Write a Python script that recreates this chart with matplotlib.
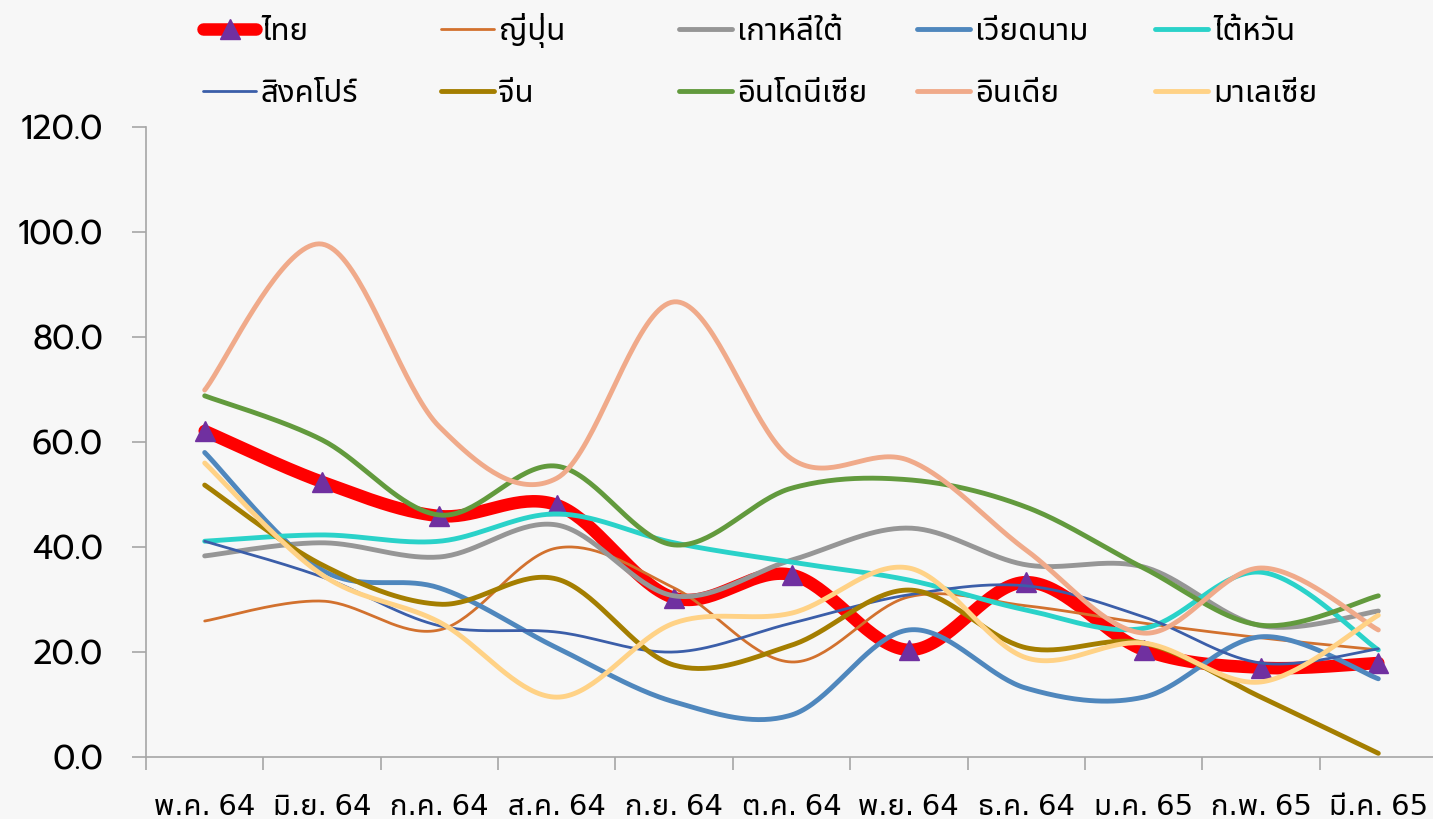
import numpy as np
import matplotlib
matplotlib.use("Agg")
import matplotlib.pyplot as plt
from matplotlib.lines import Line2D

months = ["พ.ค. 64", "มิ.ย. 64", "ก.ค. 64", "ส.ค. 64", "ก.ย. 64", "ต.ค. 64",
          "พ.ย. 64", "ธ.ค. 64", "ม.ค. 65", "ก.พ. 65", "มี.ค. 65"]

thailand  = [62.1, 52.4, 45.9, 48.0, 30.3, 34.7, 20.4, 33.3, 20.4, 17.0, 17.9]
japan     = [25.9, 29.7, 24.2, 39.8, 32.2, 18.1, 30.5, 28.8, 25.5, 22.7, 20.4]
korea     = [38.3, 40.8, 38.1, 44.2, 30.7, 37.5, 43.6, 36.6, 36.2, 25.0, 27.8]
vietnam   = [58.0, 35.6, 32.2, 20.8, 10.5, 8.0, 24.2, 13.1, 11.4, 22.9, 14.9]
taiwan    = [41.1, 42.3, 41.1, 46.3, 40.8, 37.1, 33.7, 28.0, 24.5, 35.2, 20.4]
singapore = [41.1, 34.3, 25.0, 23.8, 20.0, 25.5, 30.9, 32.6, 26.7, 17.9, 20.6]
china     = [51.8, 36.6, 29.1, 33.9, 17.5, 21.3, 31.8, 20.8, 21.7, 11.4, 0.7]
indonesia = [68.8, 60.4, 46.1, 55.4, 40.4, 51.2, 52.8, 47.6, 36.0, 25.1, 30.7]
india     = [69.9, 97.7, 62.9, 53.1, 86.7, 56.8, 56.5, 39.4, 23.6, 36.0, 24.2]
malaysia  = [56.0, 34.7, 25.7, 11.4, 25.5, 27.4, 36.0, 18.9, 21.7, 14.3, 27.0]

plt.rcParams['font.family'] = ['Noto Sans Thai UI', 'DejaVu Sans']


def smooth(ys, n=40):
    # excel style smoothed line (catmull-rom bezier)
    ys = np.asarray(ys, float)
    xs = np.arange(len(ys), dtype=float)
    px = np.concatenate([[xs[0]], xs, [xs[-1]]])
    py = np.concatenate([[ys[0]], ys, [ys[-1]]])
    t = np.linspace(0, 1, n)[:, None]
    out = []
    for i in range(1, len(px) - 2):
        p0 = np.array([px[i-1], py[i-1]])
        p1 = np.array([px[i], py[i]])
        p2 = np.array([px[i+1], py[i+1]])
        p3 = np.array([px[i+2], py[i+2]])
        c1 = p1 + (p2 - p0) / 6
        c2 = p2 - (p3 - p1) / 6
        seg = ((1-t)**3)*p1 + 3*((1-t)**2)*t*c1 + 3*(1-t)*(t**2)*c2 + (t**3)*p2
        out.append(seg)
    out = np.vstack(out)
    return out[:, 0], out[:, 1]


W, H = 1433, 819
bg = "#F7F7F7"
fig = plt.figure(figsize=(14.33, 8.19), dpi=100, facecolor=bg)
ax = fig.add_axes([146/W, 1-757/H, 1291/W, 630/H], facecolor=bg)

series = [
    ("ญี่ปุ่น", japan, "#D2712E", 2.0),
    ("เกาหลีใต้", korea, "#969696", 3.5),
    ("เวียดนาม", vietnam, "#4F87BD", 3.5),
    ("ไต้หวัน", taiwan, "#2AD2C9", 3.5),
    ("สิงคโปร์", singapore, "#3B5EA9", 2.0),
    ("จีน", china, "#A47E00", 3.5),
    ("อินโดนีเซีย", indonesia, "#629A3D", 3.5),
    ("อินเดีย", india, "#F0AA8A", 3.5),
    ("มาเลเซีย", malaysia, "#FFD286", 3.5),
]

x = np.arange(len(months))
sx, sy = smooth(thailand)
ax.plot(sx, sy, color="#FF0000", lw=9, solid_capstyle="round", zorder=2)
ax.plot(x, thailand, ls="none", marker="^", ms=15, color="#7030A0", zorder=2)
for i, (name, vals, col, lw) in enumerate(series):
    sx, sy = smooth(vals)
    ax.plot(sx, sy, color=col, lw=lw, solid_capstyle="round", zorder=3+i)

ax.set_xlim(-0.5, len(months) - 0.5)
ax.set_ylim(0, 120)
ax.set_yticks(np.arange(0, 121, 20))
ax.set_yticklabels([f"{v:.1f}" for v in np.arange(0, 121, 20)],
                   family=['Prompt', 'DejaVu Sans'])
ax.set_xticks(x)
ax.set_xticklabels(months)
ax.set_xticks(np.arange(-0.5, len(months)), minor=True)
ax.tick_params(axis="x", which="major", length=0, pad=26, labelsize=21)
ax.tick_params(axis="x", which="minor", length=9, width=1.2, color="#A6A6A6")
ax.tick_params(axis="y", length=10, width=1.2, color="#A6A6A6", pad=21, labelsize=24)
for s in ["top", "right"]:
    ax.spines[s].set_visible(False)
for s in ["left", "bottom"]:
    ax.spines[s].set_color("#A6A6A6")
    ax.spines[s].set_linewidth(1.2)

# legend drawn by hand: 5 columns, filled row by row
names = ["ไทย"] + [s[0] for s in series]
styles = [("#FF0000", 9)] + [(s[2], s[3]) for s in series]
col_x = [203, 441, 679, 917, 1155]
row_y = [29, 91]
for k, name in enumerate(names):
    r, c = divmod(k, 5)
    x0 = col_x[c]
    y0 = 1 - row_y[r] / H
    col, lw = styles[k]
    fig.add_artist(Line2D([x0/W, (x0+53)/W], [y0, y0], color=col, lw=lw,
                          solid_capstyle="round", transform=fig.transFigure))
    if k == 0:
        fig.add_artist(Line2D([(x0+26.5)/W], [y0], ls="none", marker="^", ms=15,
                              color="#7030A0", transform=fig.transFigure))
    fig.text((x0+58)/W, 1-(row_y[r]+11)/H, name, fontsize=22.5,
             ha="left", va="baseline")

fig.savefig("out.png", dpi=100, facecolor=bg)
